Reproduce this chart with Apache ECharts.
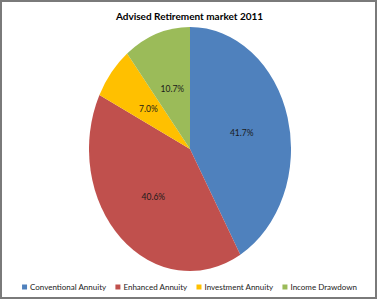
<!DOCTYPE html>
<html>
<head>
<meta charset="utf-8">
<script src="https://cdn.jsdelivr.net/npm/echarts@6/dist/echarts.min.js"></script>
<style>
  html, body { margin: 0; padding: 0; background: #fff; }
  #wrap { position: relative; width: 379px; height: 300px; overflow: hidden; background: #fff; }
  #frame { position: absolute; left: 0; top: 0; width: 377px; height: 299px; box-sizing: border-box; border: 2px solid #7a7a7a; pointer-events: none; z-index: 3; }
  #pie { position: absolute; left: 0; top: 0; width: 379px; height: 248px; transform-origin: 0 0; z-index: 1; }
  #main { position: absolute; left: 0; top: 0; width: 379px; height: 300px; z-index: 2; }
</style>
</head>
<body>
<div id="wrap">
  <div id="pie"></div>
  <div id="main"></div>
  <div id="frame"></div>
</div>
<script>
const categories = ['Conventional Annuity', 'Enhanced Annuity', 'Investment Annuity', 'Income Drawdown'];
const shares = [41.7, 40.6, 7.0, 10.7];
const colors = ['#4F81BD', '#C0504D', '#FFC000', '#9BBB59'];
const titleText = 'Advised Retirement market 2011';

const FONT = 'Lato, "Liberation Sans", sans-serif';
const data = categories.map((c, i) => ({ name: c, value: shares[i] }));

// ellipse geometry (the reference pie is stretched vertically)
const cx = 190, cy = 149, rx = 101, ry = 122;
const sy = ry / rx;
const pieDiv = document.getElementById('pie');
pieDiv.style.transform = 'scaleY(' + sy + ')';

const pieChart = echarts.init(pieDiv, null, { renderer: 'svg' });
pieChart.setOption({
  animation: false,
  color: colors,
  series: [{
    type: 'pie',
    center: [cx, cy / sy],
    radius: [0, rx],
    startAngle: 90,
    clockwise: true,
    silent: true,
    itemStyle: { borderWidth: 0 },
    label: {
      show: true,
      position: 'inside',
      formatter: p => p.value.toFixed(1) + '%',
      color: '#1a1a1a',
      fontSize: 8.5,
      fontFamily: FONT
    },
    labelLine: { show: false },
    data: data
  }]
});

const mainChart = echarts.init(document.getElementById('main'), null, { renderer: 'svg' });
mainChart.setOption({
  animation: false,
  color: colors,
  title: {
    text: titleText,
    left: 'center',
    top: 6,
    textStyle: { fontSize: 10, fontWeight: 'bold', color: '#000', fontFamily: FONT }
  },
  legend: {
    type: 'plain',
    orient: 'horizontal',
    top: 283,
    left: 'center',
    width: 379,
    padding: 0,
    icon: 'rect',
    itemWidth: 5,
    itemHeight: 5,
    itemGap: 9,
    textStyle: { fontSize: 8, color: '#222', fontFamily: FONT, padding: [0, 0, 0, -2] },
    data: categories
  },
  series: [{
    type: 'pie',
    center: [cx, cy],
    radius: [0, 0],
    silent: true,
    label: { show: false },
    labelLine: { show: false },
    data: data
  }]
});
</script>
</body>
</html>
